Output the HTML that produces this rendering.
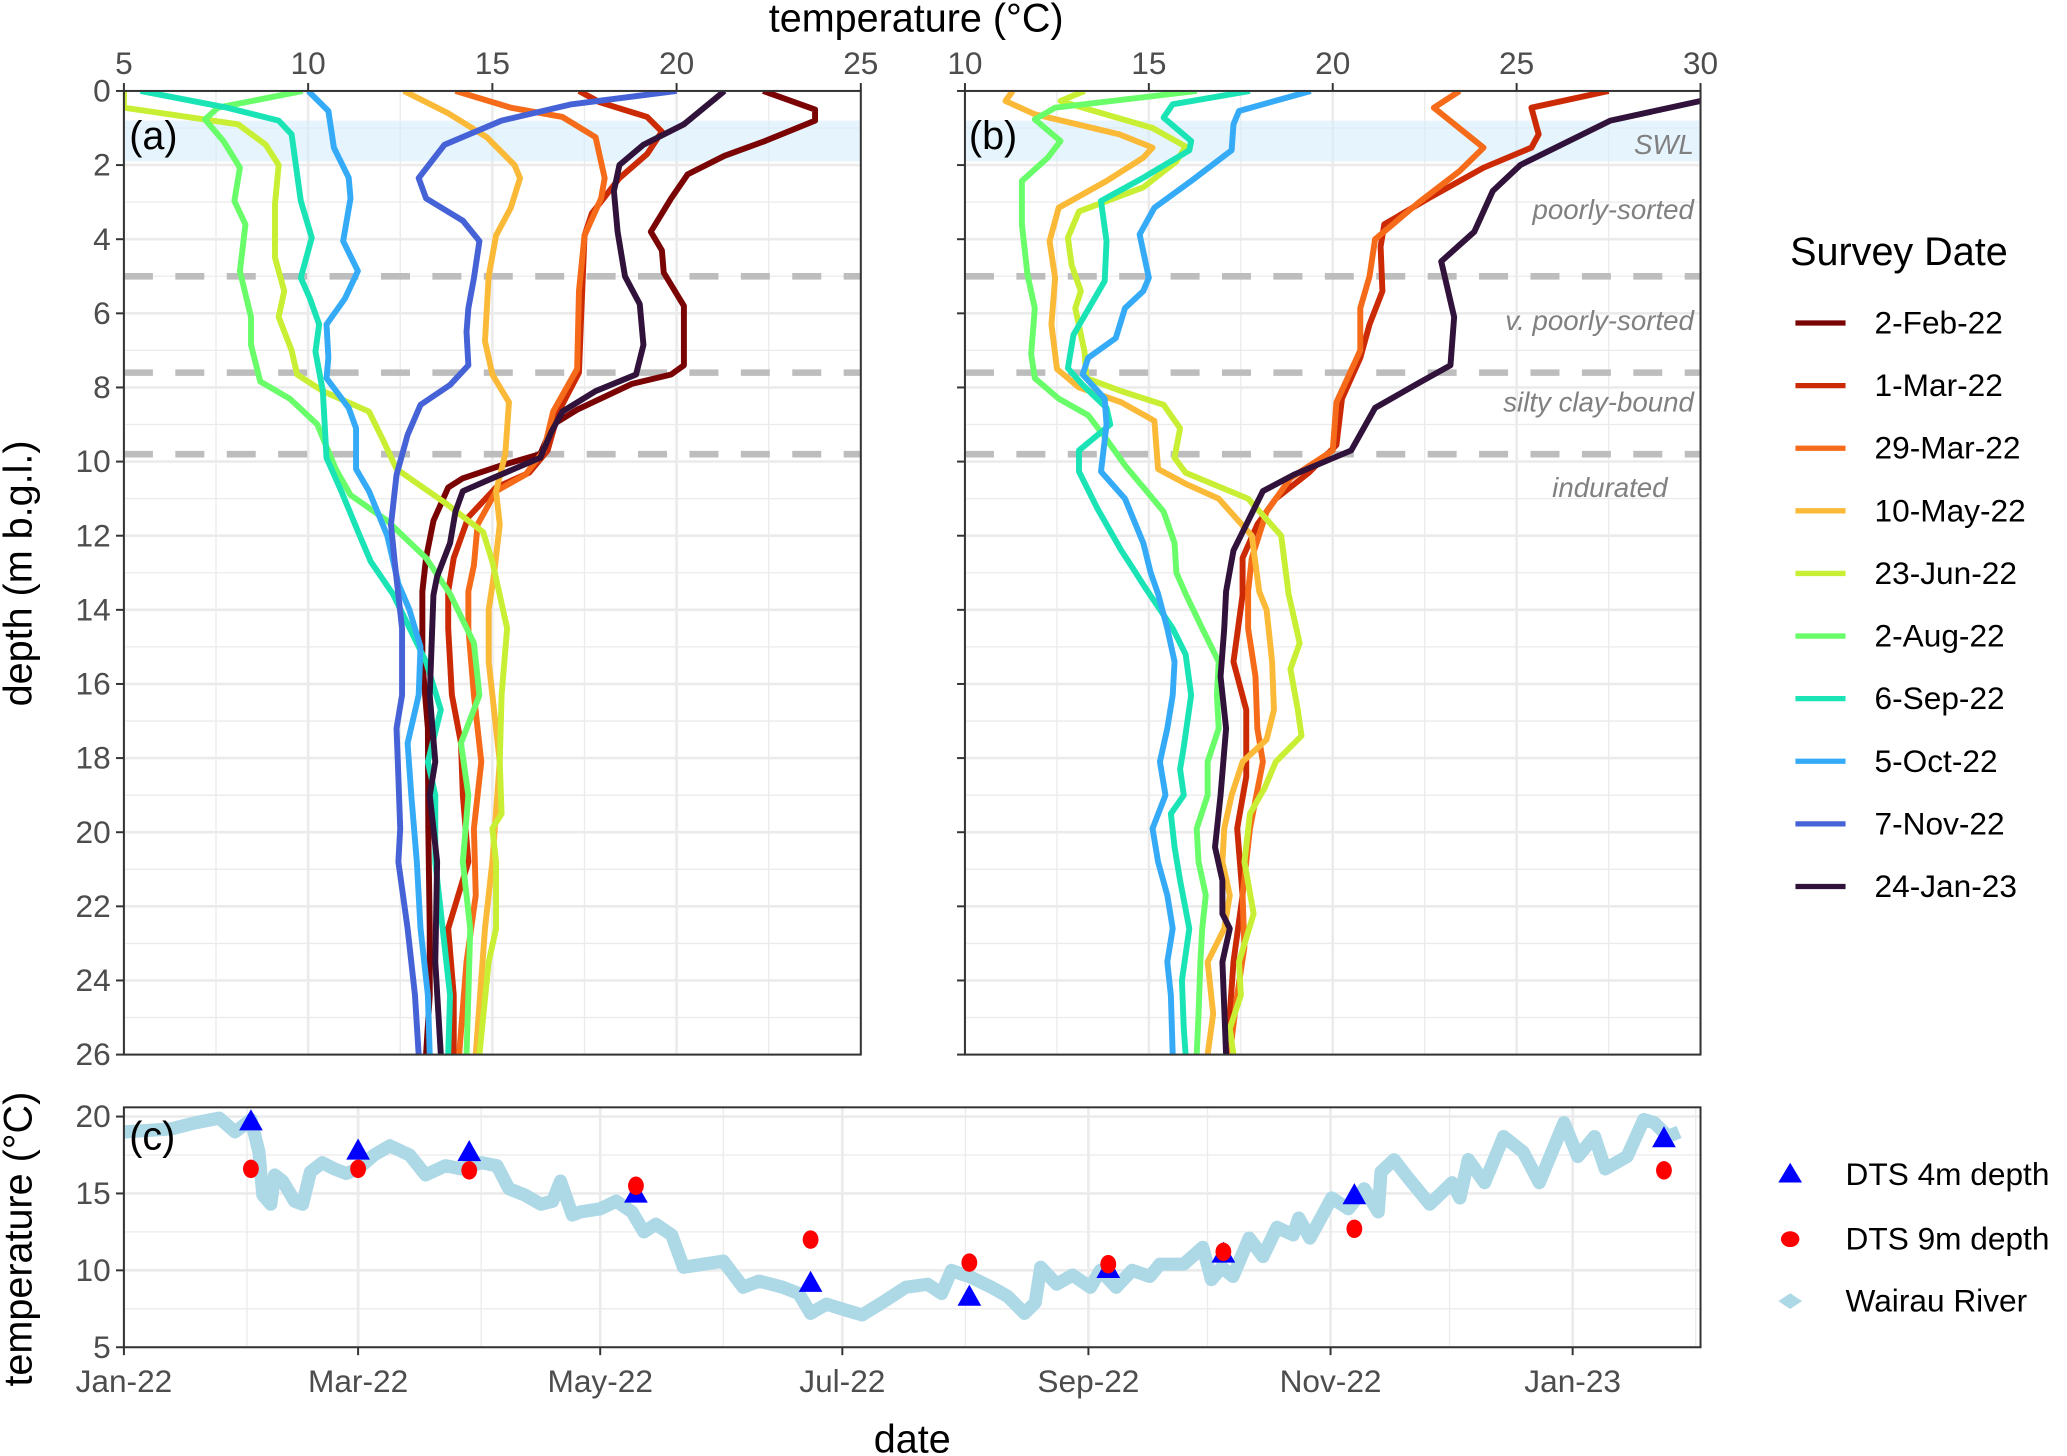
<!DOCTYPE html>
<html><head><meta charset="utf-8">
<style>
html,body{margin:0;padding:0;background:#fff;}
svg{display:block;font-family:"Liberation Sans",Arial,sans-serif;}
.tick{fill:#4d4d4d;font-size:24px;}
.title{fill:#000;font-size:30px;}
.layer{fill:#808080;font-size:21px;font-style:italic;}
.leg{fill:#000;font-size:24px;}
</style></head>
<body>
<svg id="fig" width="2067" height="1456" viewBox="0 0 1568 1104.5" xmlns="http://www.w3.org/2000/svg">
<defs>
<clipPath id="clipA"><rect x="94" y="69" width="559" height="731"/></clipPath>
<clipPath id="clipB"><rect x="732" y="69" width="558" height="731"/></clipPath>
<clipPath id="clipC"><rect x="94" y="840" width="1196" height="182"/></clipPath>
</defs>
<rect x="0" y="0" width="1568" height="1104.5" fill="#fff"/>
<g id="gridA"></g>
<g id="gridB"></g>
<g id="gridC"></g>
<g id="layers"></g>
<g id="seriesA" clip-path="url(#clipA)"></g>
<g id="seriesB" clip-path="url(#clipB)"></g>
<g id="seriesC" clip-path="url(#clipC)"></g>
<g id="axes"></g>
<g id="legend"></g>
<text class="title" x="695" y="24" text-anchor="middle">temperature (°C)</text>
<text class="title" x="0" y="0" text-anchor="middle" transform="translate(24,435) rotate(-90)">depth (m b.g.l.)</text>
<text class="title" x="0" y="0" text-anchor="middle" transform="translate(24,940) rotate(-90)">temperature (°C)</text>
<text class="title" x="692" y="1102" text-anchor="middle">date</text>
<text class="title" x="98" y="113">(a)</text>
<text class="title" x="735" y="113">(b)</text>
<text class="title" x="98" y="872">(c)</text>
</svg>
<script>
const seriesNames = ["2-Feb-22","1-Mar-22","29-Mar-22","10-May-22","23-Jun-22","2-Aug-22","6-Sep-22","5-Oct-22","7-Nov-22","24-Jan-23"];
const seriesColors = ["#7a0403","#cb2a04","#f66b19","#fbb938","#c8ef34","#6afd6a","#1ae4b6","#35abf8","#4662d7","#30123b"];
const a_2Feb22 = [[22.35,0],[23.76,0.5],[23.76,0.8],[22.4,1.35],[21.3,1.75],[20.3,2.25],[19.85,2.9],[19.3,3.8],[19.6,4.3],[19.65,4.9],[20.2,5.8],[20.2,6.3],[20.2,7.4],[19.85,7.65],[18.8,7.9],[17.3,8.6],[16.65,9.0],[16.3,9.8],[15.25,10.1],[14.2,10.45],[13.8,10.7],[13.4,11.6],[13.2,12.6],[13.1,13.5],[13.1,15.4],[13.25,17.2],[13.26,19.9],[13.3,22.6],[13.3,24.4],[13.2,26]];
const a_1Mar22 = [[17.35,0],[17.9,0.3],[19.2,0.7],[19.6,1.1],[19.2,1.7],[18.45,2.35],[17.7,3.3],[17.5,3.9],[17.4,6.3],[17.35,7.6],[16.8,8.65],[16.5,9.7],[16.0,10.3],[15.1,10.7],[14.35,11.5],[13.95,12.6],[13.8,13.5],[13.8,14.5],[13.9,16.3],[14.15,17.6],[14.2,19],[14.35,20.8],[13.8,22.6],[13.95,24.4],[13.95,26]];
const a_29Mar22 = [[14.0,0],[15.5,0.45],[16.9,0.7],[17.8,1.25],[18.05,2.35],[17.95,2.9],[17.5,3.9],[17.35,5.4],[17.3,7.5],[16.65,8.65],[16.4,9.7],[15.9,10.35],[15.1,10.8],[14.6,11.7],[14.5,12.8],[14.35,13.5],[14.35,14.5],[14.5,16.3],[14.7,18.1],[14.5,19.9],[14.55,21.7],[14.3,23.5],[14.1,26]];
const a_10May22 = [[12.6,0],[13.8,0.6],[14.85,1.25],[15.6,2],[15.75,2.35],[15.5,3.15],[15.1,3.9],[14.9,5],[14.8,6.75],[15.0,7.65],[15.45,8.4],[15.35,9.8],[15.1,10.8],[15.2,11.7],[15.05,13.0],[14.9,14.0],[14.9,15.4],[15.2,18.1],[15.0,20.8],[14.8,22.6],[14.55,26]];
const a_23Jun22 = [[5.0,0],[5.0,0.45],[8.1,0.9],[8.85,1.45],[9.2,2],[9.1,3.05],[9.1,4.5],[9.35,5.4],[9.2,6.1],[9.55,7],[9.7,7.65],[10.4,8.1],[11.65,8.65],[12.05,9.45],[12.4,10.2],[13.7,11.1],[14.75,11.9],[15.0,12.7],[15.4,14.5],[15.25,16.3],[15.2,18.1],[15.25,19.5],[15.0,19.9],[15.1,20.8],[15.1,22.6],[14.9,23.5],[14.65,26]];
const a_2Aug22 = [[9.85,0],[7.55,0.45],[7.2,0.77],[7.7,1.35],[8.15,2.07],[8.0,2.97],[8.3,3.6],[8.15,4.86],[8.45,6.1],[8.45,6.85],[8.7,7.84],[9.5,8.3],[10.25,9],[10.75,10.2],[11.15,10.9],[12.15,11.6],[13.2,12.6],[13.85,13.57],[14.5,14.9],[14.65,16.3],[14.15,17.6],[14.35,19],[14.2,20.8],[14.4,22.6],[14.35,24.4],[14.3,26]];
const a_6Sep22 = [[5.45,0],[7.8,0.45],[9.2,0.8],[9.55,1.17],[9.8,2.97],[10.1,3.96],[9.8,5.04],[10.05,5.6],[10.3,6.3],[10.2,7.03],[10.4,8.1],[10.5,9.9],[10.9,10.8],[11.4,12],[11.7,12.7],[12.3,13.57],[13.2,15.4],[13.6,16.7],[13.25,18.1],[13.45,19],[13.45,20.8],[13.65,22.6],[13.85,24.4],[13.8,26]];
const a_5Oct22 = [[10.0,0],[10.55,0.54],[10.7,1.53],[11.1,2.34],[11.15,2.9],[10.95,4.05],[11.35,4.86],[11.0,5.6],[10.5,6.3],[10.55,7.2],[10.5,7.75],[11.1,8.55],[11.3,9.1],[11.3,10.2],[11.65,10.8],[12.15,12],[12.45,13.3],[12.75,14],[13.05,15],[13.0,16.3],[12.7,17.6],[12.8,19],[12.95,20.8],[13.05,22.6],[13.25,24.4],[13.3,26]];
const a_7Nov22 = [[20.0,0],[17.15,0.36],[15.25,0.8],[13.7,1.45],[13.0,2.35],[13.2,2.9],[14.2,3.5],[14.65,4.05],[14.5,5.05],[14.35,5.86],[14.3,6.5],[14.35,7.4],[13.85,7.93],[13.05,8.47],[12.7,9.28],[12.4,10.36],[12.25,11.7],[12.35,12.7],[12.55,14.5],[12.55,16.3],[12.4,17.2],[12.45,18.5],[12.5,19.9],[12.45,20.8],[12.7,22.6],[12.9,24.4],[13.0,26]];
const a_24Jan23 = [[21.3,0],[20.2,0.9],[19.1,1.45],[18.45,2],[18.3,2.7],[18.4,3.8],[18.6,5],[19.0,5.75],[19.1,6.85],[18.9,7.65],[17.8,8.1],[16.9,8.65],[16.6,9.2],[16.3,9.9],[15.0,10.45],[14.2,10.8],[14.0,11.35],[13.85,12.2],[13.5,13.1],[13.4,13.6],[13.3,16.3],[13.45,18.1],[13.3,19],[13.5,20.8],[13.45,23.5],[13.6,26]];
const b_1Mar22 = [[27.5,0],[25.4,0.45],[25.6,1.17],[25.4,1.53],[24.1,2.07],[22.6,2.9],[21.4,3.6],[21.3,4.2],[21.35,5.4],[21.0,6.3],[20.75,7.2],[20.25,8.3],[20.1,9.55],[19.35,10.3],[18.45,11],[17.95,11.7],[17.55,12.6],[17.55,13.6],[17.3,15.4],[17.65,16.7],[17.65,18.5],[17.4,19.9],[17.55,21.7],[17.3,23.5],[17.2,24.9],[17.25,26]];
const b_29Mar22 = [[23.45,0],[22.75,0.45],[24.1,1.53],[23.45,2.16],[22.35,3],[21.15,4],[21.0,5],[20.75,5.86],[20.75,7],[20.1,8.4],[20.0,9.7],[18.85,10.45],[18.2,11.35],[17.8,12.6],[17.7,13.5],[17.7,14.5],[17.9,15.8],[17.95,17.2],[18.1,18.1],[17.75,19.9],[17.55,21.7],[17.6,23.1],[17.4,24.4],[17.2,26]];
const b_10May22 = [[11.3,0],[11.1,0.27],[11.9,0.63],[14.2,1.17],[15.1,1.53],[14.85,1.8],[13.85,2.43],[12.55,3.15],[12.3,4.05],[12.45,5.05],[12.35,6.3],[12.5,7.5],[13.1,8.0],[14.25,8.4],[15.15,8.9],[15.25,10.2],[16.0,10.6],[16.9,11],[17.8,12],[18.0,13.5],[18.2,14],[18.35,15.4],[18.4,16.7],[18.2,17.5],[17.55,18.1],[17.25,19],[17.05,19.9],[17.0,20.8],[17.2,21.7],[17.05,22.6],[16.6,23.5],[16.75,24.9],[16.6,26]];
const b_23Jun22 = [[13.25,0],[12.6,0.27],[13.2,0.45],[15.1,1],[16.0,1.5],[15.75,1.9],[14.85,2.6],[13.1,3.25],[12.8,3.96],[12.9,4.7],[13.15,5.4],[13.0,5.86],[13.25,7.03],[13.3,7.75],[14.25,8.1],[15.4,8.47],[15.85,9.1],[15.7,9.9],[16.0,10.3],[17.7,11],[18.6,12],[18.8,13.57],[19.1,14.9],[18.85,15.6],[19.05,16.7],[19.15,17.4],[18.45,18.1],[18.15,18.8],[17.75,19.5],[17.6,20.8],[17.85,22.2],[17.45,23.5],[17.5,24.4],[17.2,25.3],[17.3,26]];
const b_2Aug22 = [[16.3,0],[12.45,0.45],[11.9,0.77],[12.6,1.35],[12.25,1.8],[11.55,2.43],[11.55,3.6],[11.7,4.95],[11.9,5.86],[11.8,7.1],[11.9,7.75],[12.55,8.3],[13.35,8.75],[13.85,9.4],[14.35,10.1],[15.4,11.35],[15.7,12.2],[15.75,13.0],[16.0,13.57],[16.45,14.5],[16.9,15.4],[16.85,16.3],[16.9,17.2],[16.6,18.1],[16.6,19],[16.3,19.9],[16.35,20.8],[16.55,21.7],[16.45,22.6],[16.4,23.5],[16.35,24.9],[16.3,26]];
const b_6Sep22 = [[17.75,0],[15.65,0.36],[15.4,0.72],[16.15,1.35],[16.1,1.6],[14.85,2.34],[13.7,2.97],[13.85,4.05],[13.8,5.13],[12.95,6.58],[12.8,7.48],[13.2,7.93],[13.85,8.55],[13.95,9],[13.1,9.7],[13.1,10.27],[13.6,11.26],[14.25,12.4],[14.45,12.7],[14.9,13.4],[15.65,14.5],[16.0,15.2],[16.15,16.3],[15.95,17.7],[15.85,18.3],[15.95,19],[15.6,19.5],[15.7,20.4],[15.85,21.3],[16.1,22.6],[15.9,24],[15.95,25.3],[16.0,26]];
const b_5Oct22 = [[19.4,0],[17.45,0.54],[17.3,0.9],[17.25,1.6],[16.15,2.43],[15.15,3.15],[14.75,3.87],[15.0,5.04],[14.85,5.4],[14.35,5.86],[14.1,6.67],[13.35,7.2],[13.2,7.65],[13.8,8.3],[13.85,9],[13.7,10.27],[14.35,11],[14.85,12.2],[15.05,13.0],[15.25,13.57],[15.5,14.5],[15.7,15.4],[15.65,16.3],[15.5,17.2],[15.3,18.1],[15.45,19],[15.1,19.9],[15.25,20.8],[15.5,21.7],[15.65,22.6],[15.5,23.5],[15.6,24.4],[15.65,26]];
const b_24Jan23 = [[30.6,0],[30,0.27],[27.55,0.8],[25.1,2],[24.35,2.7],[23.85,3.8],[22.95,4.6],[23.3,6.1],[23.2,7.4],[22.3,7.9],[21.15,8.55],[20.5,9.7],[18.95,10.35],[18.1,10.8],[17.3,12.4],[17.1,13.5],[17.05,14.5],[16.95,15.8],[17.1,17.2],[16.95,19],[16.8,20.4],[17.0,21.3],[17.0,22.2],[17.2,22.6],[17.0,23.5],[17.1,26]];
const riverDays = [0,6,12,18,24,28,32,34,35,37,38,40,43,45,47,50,53,56,59,63,67,72,76,81,85,90,94,97,101,105,108,110,113,115,120,124,128,131,134,138,141,146,151,156,160,166,170,173,177,182,186,191,197,202.5,206,208.5,210.6,213,218.6,222.7,226.9,229.6,231,235,239,243.5,246,250,254,258.5,261,267,271.8,274,276.6,279.4,283.5,287,290.5,294.6,296,298.8,304.3,308.5,312.5,316,316.7,320,323.6,329,334.6,336.6,338.7,342.8,347.6,352.5,356.6,362.8,366.3,370.5,373.2,378.7,382.9,385.6,389,391.8];
const riverTemps = [19.0,19.1,19.2,19.6,19.9,19.0,19.8,17.7,14.9,14.3,16.2,15.8,14.5,14.3,16.4,17.0,16.6,16.3,16.6,17.5,18.1,17.5,16.2,16.8,16.6,17.0,16.8,15.3,14.9,14.3,14.5,15.8,13.6,13.8,14.0,14.5,13.8,12.5,13.0,12.3,10.2,10.4,10.6,8.9,9.3,8.9,8.5,7.2,7.8,7.4,7.1,7.9,8.9,9.1,8.5,10.0,9.8,9.6,8.9,8.3,7.2,7.9,10.2,9.1,9.7,8.9,10.0,8.9,10.0,9.6,10.4,10.4,11.5,9.4,10.2,9.6,12.1,10.9,12.8,12.3,13.4,12.1,14.7,14.0,15.3,13.8,16.4,17.2,16.0,14.3,15.7,14.7,17.2,15.7,18.7,17.7,15.7,19.6,17.4,18.7,16.6,17.4,19.8,19.6,18.7,19.0];
const surveyDays = [32,59,87,129,173,213,248,277,310,388];
const dts4m = [19.7,17.8,17.7,15.0,9.2,8.3,10.1,11.1,14.9,18.6];
const dts9m = [16.6,16.6,16.5,15.5,12.0,10.5,10.4,11.2,12.7,16.5];
const depthTicks = [0,2,4,6,8,10,12,14,16,18,20,22,24,26];
const tempTicksA = [5,10,15,20,25];
const tempTicksB = [10,15,20,25,30];
const tempTicksC = [5,10,15,20];
const dateTickDays = [0,59,120,181,243,304,365];
const dateTickLabels = ["Jan-22","Mar-22","May-22","Jul-22","Sep-22","Nov-22","Jan-23"];
const minorDateDays = [31,90,151,212,273,334,396];
const layerDepths = [5,7.6,9.8];
const swlBand = [0.8,1.9];
const layerNames = ["SWL","poorly-sorted","v. poorly-sorted","silty clay-bound","indurated"];
const layerLabelDepths = [1.45,3.2,6.2,8.4,10.7];

const NS="http://www.w3.org/2000/svg";
function mk(tag,attrs,parent){const e=document.createElementNS(NS,tag);for(const k in attrs)e.setAttribute(k,attrs[k]);if(parent)parent.appendChild(e);return e;}
const yD = d => 69 + d*(731/26);
const xA = t => 94 + (t-5)*(559/20);
const xB = t => 732 + (t-10)*(558/20);
const xC = day => 94 + day*(1099/365);
const yC = t => 1022 - (t-5)*(175/15);

const gA=document.getElementById('gridA'),gB=document.getElementById('gridB'),gC=document.getElementById('gridC');
function grid(g,xs,x0,x1,y0,y1,tmin,tmax){
  for(let t=tmin;t<=tmax+0.01;t+=2.5){const major=Math.abs(t%5)<0.01;
    const l=mk('line',{x1:xs(t),x2:xs(t),y1:y0,y2:y1,stroke:'#ebebeb','stroke-width':major?2:1},g);
    
    }
  for(let d=0;d<=26;d++){const major=d%2===0;
    const l=mk('line',{x1:x0,x2:x1,y1:yD(d),y2:yD(d),stroke:'#ebebeb','stroke-width':major?2:1},g);
    
    }
}
grid(gA,xA,94,653,69,800,5,25);
grid(gB,xB,732,1290,69,800,10,30);
for(let t=5;t<=20;t+=2.5){const major=t%5===0;
  const l=mk('line',{x1:94,x2:1290,y1:yC(t),y2:yC(t),stroke:'#ebebeb','stroke-width':major?2:1},gC);
  
  }
dateTickDays.forEach(d=>{const l=mk('line',{x1:xC(d),x2:xC(d),y1:840,y2:1022,stroke:'#ebebeb','stroke-width':2},gC);
  
  });
minorDateDays.forEach(d=>{if(xC(d)>1290)return;const l=mk('line',{x1:xC(d),x2:xC(d),y1:840,y2:1022,stroke:'#ebebeb','stroke-width':1},gC);
  
  });

const lay=document.getElementById('layers');
[[94,653],[732,1290]].forEach(([x0,x1])=>{
  const r=mk('rect',{x:x0,y:yD(swlBand[0]),width:x1-x0,height:yD(swlBand[1])-yD(swlBand[0]),fill:'#d6edfb','fill-opacity':0.6},lay);
  
  
  layerDepths.forEach(d=>{const l=mk('line',{x1:x0,x2:x1,y1:yD(d),y2:yD(d),stroke:'#bdbdbd','stroke-width':5,'stroke-dasharray':'22 17'},lay);
    
    });
});
layerNames.forEach((n,i)=>{const t=mk('text',{x:i===4?1265:1285,y:yD(layerLabelDepths[i])+7,'text-anchor':'end',class:'layer'},lay);t.textContent=n;
  
  });

function prof(g,data,xs,color,name){
  const p=mk('polyline',{points:data.map(([t,d])=>xs(t).toFixed(1)+','+yD(d).toFixed(1)).join(' '),fill:'none',stroke:color,'stroke-width':4.5,'stroke-linejoin':'round'},g);
  
  
}
const sA=document.getElementById('seriesA'),sB=document.getElementById('seriesB');
const aData=[a_2Feb22,a_1Mar22,a_29Mar22,a_10May22,a_23Jun22,a_2Aug22,a_6Sep22,a_5Oct22,a_7Nov22,a_24Jan23];
aData.forEach((d,i)=>prof(sA,d,xA,seriesColors[i],seriesNames[i]));
const bData=[null,b_1Mar22,b_29Mar22,b_10May22,b_23Jun22,b_2Aug22,b_6Sep22,b_5Oct22,null,b_24Jan23];
bData.forEach((d,i)=>{if(d)prof(sB,d,xB,seriesColors[i],seriesNames[i]);});

const sC=document.getElementById('seriesC');
const rv=mk('polyline',{points:riverDays.map((d,i)=>xC(d).toFixed(1)+','+yC(riverTemps[i]).toFixed(1)).join(' '),fill:'none',stroke:'#add8e6','stroke-width':10,'stroke-linejoin':'round'},sC);


surveyDays.forEach((d,i)=>{
  const x=xC(d),y=yC(dts4m[i]);
  const tr=mk('polygon',{points:`${x-9},${y+7} ${x+9},${y+7} ${x},${y-9}`,fill:'#0000ff'},sC);
  
  
});
surveyDays.forEach((d,i)=>{
  const c=mk('ellipse',{cx:xC(d),cy:yC(dts9m[i]),rx:6,ry:7,fill:'#ff0000'},sC);
  
  
});

const ax=document.getElementById('axes');
function box(x,y,w,h,name){const r=mk('rect',{x:x,y:y,width:w,height:h,fill:'none',stroke:'#333','stroke-width':1.5},ax);
  
  }
box(94,69,559,731,'panel-a-frame');box(732,69,558,731,'panel-b-frame');box(94,840,1196,182,'panel-c-frame');
function tl(x1,y1,x2,y2){const l=mk('line',{x1,y1,x2,y2,stroke:'#333','stroke-width':1.5},ax);
  
  }
function tx(x,y,s,anchor){const t=mk('text',{x,y,'text-anchor':anchor,class:'tick'},ax);t.textContent=s;
  
  }
tempTicksA.forEach(t=>{tl(xA(t),69,xA(t),63);tx(xA(t),56,String(t),'middle');});
tempTicksB.forEach(t=>{tl(xB(t),69,xB(t),63);tx(xB(t),56,String(t),'middle');});
depthTicks.forEach(d=>{tl(88,yD(d),94,yD(d));tx(84,yD(d)+8,String(d),'end');tl(726,yD(d),732,yD(d));});
tempTicksC.forEach(t=>{tl(88,yC(t),94,yC(t));tx(84,yC(t)+8,String(t),'end');});
dateTickDays.forEach((d,i)=>{tl(xC(d),1022,xC(d),1028);tx(xC(d),1056,dateTickLabels[i],'middle');});

const lg=document.getElementById('legend');
const lt=mk('text',{x:1358,y:201,class:'title'},lg);lt.textContent='Survey Date';


seriesNames.forEach((n,i)=>{const y=245+i*47.5;
  const l=mk('line',{x1:1362,x2:1400,y1:y,y2:y,stroke:seriesColors[i],'stroke-width':4},lg);
  
  
  const t=mk('text',{x:1422,y:y+8,class:'leg'},lg);t.textContent=n;
  
  });
const tri=mk('polygon',{points:'1349,897 1367,897 1358,882',fill:'#0000ff'},lg);


const cir=mk('ellipse',{cx:1358,cy:940,rx:7,ry:6,fill:'#ff0000'},lg);


const dia=mk('polygon',{points:'1349,987 1358,981 1367,987 1358,993',fill:'#add8e6'},lg);


[['DTS 4m depth',899],['DTS 9m depth',948],['Wairau River',995]].forEach(([s,y])=>{
  const t=mk('text',{x:1400,y:y,class:'leg'},lg);t.textContent=s;
  
  });
</script>
</body></html>
